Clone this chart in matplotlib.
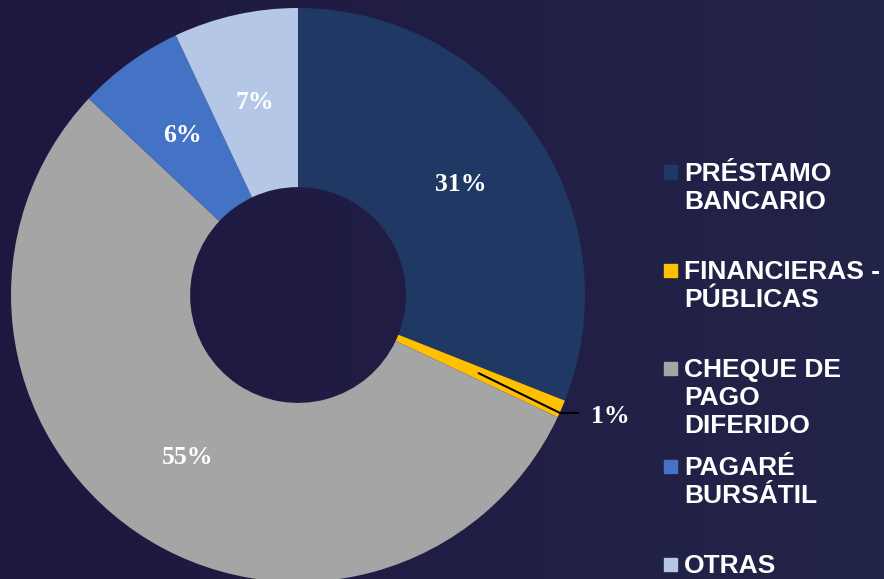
import matplotlib.pyplot as plt
import numpy as np
from matplotlib.colors import LinearSegmentedColormap

# datos
categorias = ['PRÉSTAMO\nBANCARIO', 'FINANCIERAS -\nPÚBLICAS', 'CHEQUE DE\nPAGO\nDIFERIDO',
              'PAGARÉ\nBURSÁTIL', 'OTRAS']
valores = [31, 1, 55, 6, 7]
colores = ['#1f3864', '#ffc000', '#a5a5a5', '#4472c4', '#b4c7e7']

W, H = 884, 579
fig = plt.figure(figsize=(W / 100, H / 100), dpi=100)

# fondo degradado
bg = fig.add_axes([0, 0, 1, 1])
grad = np.linspace(0, 1, 256).reshape(1, -1)
cmap_bg = LinearSegmentedColormap.from_list('bg', ['#1e1740', '#232449'])
bg.imshow(grad, aspect='auto', cmap=cmap_bg, extent=[0, 1, 0, 1])
bg.axis('off')

# dona: centro (298, 295) px, radio 287 px
cx, cy, R = 298, 295, 287
ax = fig.add_axes([(cx - R) / W, (H - cy - R) / H, 2 * R / W, 2 * R / H])
wedges, _ = ax.pie(valores, colors=colores, startangle=90, counterclock=False,
                   radius=1, wedgeprops=dict(width=0.624, linewidth=0))
ax.set_xlim(-1, 1)
ax.set_ylim(-1, 1)
ax.set_aspect('equal')
ax.axis('off')

fuente_pct = dict(family='Liberation Serif', weight='bold', size=18.5, color='white')
for i, (w, v) in enumerate(zip(wedges, valores)):
    ang = np.deg2rad((w.theta1 + w.theta2) / 2)
    x, y = 0.686 * np.cos(ang), 0.686 * np.sin(ang)
    if v < 2:
        ax.plot([x, 0.913, 0.976], [y, -0.411, -0.411], color='black', lw=1.5,
                solid_capstyle='round', clip_on=False)
        ax.text(1.087, -0.425, f'{v}%', ha='center', va='center', **fuente_pct)
    else:
        ax.text(x, y, f'{v}%', ha='center', va='center', **fuente_pct)

# leyenda manual
y0 = 172
for i, (cat, col) in enumerate(zip(categorias, colores)):
    yy = y0 + i * 98
    fig.patches.append(plt.Rectangle((664 / W, 1 - (yy + 6.5) / H), 13 / W, 13 / H,
                                     transform=fig.transFigure, color=col))
    fig.text(684 / W, 1 - (yy - 10) / H, cat, ha='left', va='top', color='white',
             family='Liberation Sans', weight='bold', size=19, linespacing=1.22)

fig.savefig('out.png', dpi=100)
